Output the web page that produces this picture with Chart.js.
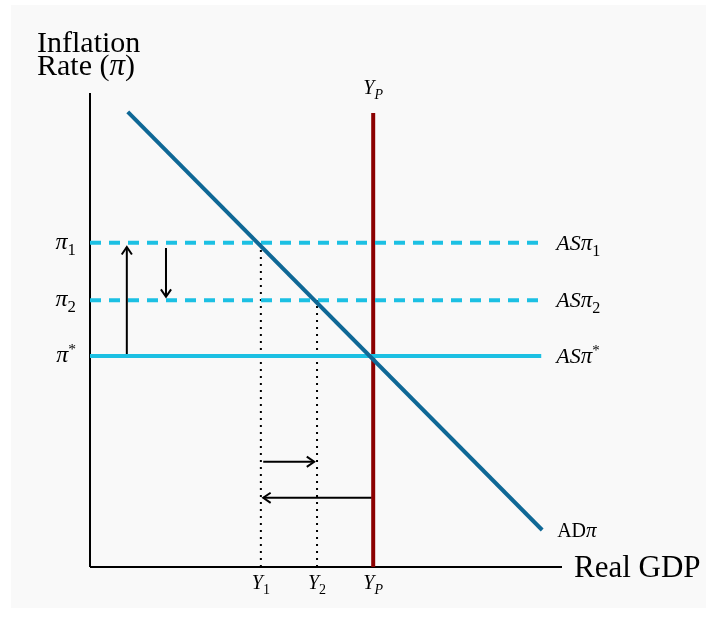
<!DOCTYPE html>
<html>
<head>
<meta charset="utf-8">
<script src="https://cdn.jsdelivr.net/npm/chart.js@4"></script>
<style>
  html, body { margin: 0; padding: 0; background: #ffffff; }
  #wrap { position: absolute; left: 11px; top: 5px; width: 695px; height: 603px; background: #f9f9f9; }
</style>
</head>
<body>
<div id="wrap"><canvas id="myChart" width="695" height="603"></canvas></div>
<script>
// niveles de inflación (pi1, pi2, pi*)
var piLevels = [68.4, 56.3, 44.5];
var piNames = ['1', '2', '*'];
// niveles de producción (Y1, Y2, YP)
var outputLevels = [36.2, 48.1, 60];
var outputNames = ['1', '2', 'P'];
// curva AD
var adX = [8, 95.8];
var adY = [96, 7.8];
var asEnd = 95.6;
var ypTop = 95.8;
// flechas: [x0, x1], [y0, y1]
var arrowsX = [[7.8, 7.8], [16.1, 16.1], [36.7, 47.5], [59.7, 36.7]];
var arrowsY = [[44.9, 67.5], [67.3, 57.0], [22.2, 22.2], [14.6, 14.6]];

var SERIF = "'Liberation Serif', 'Times New Roman', serif";

function linea(x, y, color, width, dash, extra) {
    var d = {
        data: x.map(function (v, i) { return { x: v, y: y[i] }; }),
        showLine: true,
        borderColor: color,
        backgroundColor: color,
        borderWidth: width,
        borderDash: dash || [],
        pointRadius: 0,
        clip: false
    };
    return Object.assign(d, extra || {});
}

var datasets = [];
datasets.push(linea(adX, adY, '#0f6896', 4, null, { order: 0 }));
piLevels.forEach(function (p, i) {
    datasets.push(linea([0, asEnd], [p, p], '#1cc0e3', 4, i < 2 ? [11, 8] : null, { order: 1 }));
});
datasets.push(linea([outputLevels[2], outputLevels[2]], [0, ypTop], '#8b0000', 4, null, { order: 2 }));
datasets.push(linea([outputLevels[0], outputLevels[0]], [0, piLevels[0]], '#000', 2, [2, 5], { order: 3 }));
datasets.push(linea([outputLevels[1], outputLevels[1]], [0, piLevels[1]], '#000', 2, [2, 5], { order: 3 }));
// ejes
datasets.push(linea([0, 0], [0, 100], '#000', 2, null, { order: 4 }));
datasets.push(linea([0, 100], [0, 0], '#000', 2, null, { order: 4 }));
arrowsX.forEach(function (ax, i) {
    datasets.push(linea(ax, arrowsY[i], '#000', 2, null, { order: 5, arrow: true }));
});

// texto con subíndice / superíndice
function texto(ctx, x, y, partes, align) {
    var total = 0;
    partes.forEach(function (p) {
        ctx.font = (p.italic ? 'italic ' : '') + p.size + 'px ' + SERIF;
        p.w = ctx.measureText(p.t).width;
        total += p.w;
    });
    var cx = align === 'right' ? x - total : (align === 'center' ? x - total / 2 : x);
    partes.forEach(function (p) {
        ctx.font = (p.italic ? 'italic ' : '') + p.size + 'px ' + SERIF;
        ctx.fillText(p.t, cx, y + (p.dy || 0));
        cx += p.w;
    });
}

function simbolo(base, idx, size, extra) {
    var partes = (extra || []).slice();
    partes.push({ t: base, italic: true, size: size });
    if (idx === '*') partes.push({ t: '*', size: size * 0.65, dy: -size * 0.35 });
    else partes.push({ t: idx, italic: idx === 'P', size: size * 0.7, dy: size * 0.25 });
    return partes;
}

var etiquetas = {
    id: 'etiquetas',
    afterDatasetsDraw: function (chart) {
        var ctx = chart.ctx;
        var xs = chart.scales.x, ys = chart.scales.y;
        ctx.save();
        ctx.fillStyle = '#000';
        ctx.strokeStyle = '#000';
        ctx.textBaseline = 'alphabetic';

        // puntas de flecha
        chart.data.datasets.forEach(function (ds) {
            if (!ds.arrow) return;
            var a = ds.data[0], b = ds.data[1];
            var x0 = xs.getPixelForValue(a.x), y0 = ys.getPixelForValue(a.y);
            var x1 = xs.getPixelForValue(b.x), y1 = ys.getPixelForValue(b.y);
            var ang = Math.atan2(y1 - y0, x1 - x0);
            var L = 9;
            ctx.lineWidth = 2;
            ctx.beginPath();
            ctx.moveTo(x1 - L * Math.cos(ang - 0.6), y1 - L * Math.sin(ang - 0.6));
            ctx.lineTo(x1, y1);
            ctx.lineTo(x1 - L * Math.cos(ang + 0.6), y1 - L * Math.sin(ang + 0.6));
            ctx.stroke();
        });

        // etiquetas del eje y
        var left = xs.getPixelForValue(0);
        piLevels.forEach(function (p, i) {
            var py = ys.getPixelForValue(p);
            texto(ctx, left - 14, py + 6, simbolo('\u03C0', piNames[i], 24), 'right');
            var ex = xs.getPixelForValue(asEnd) + 15;
            texto(ctx, ex, py + 7, simbolo('\u03C0', piNames[i], 23, [{ t: 'AS', italic: true, size: 22 }]), 'left');
        });

        // etiquetas del eje x
        var bottom = ys.getPixelForValue(0);
        outputLevels.forEach(function (o, i) {
            texto(ctx, xs.getPixelForValue(o), bottom + 22, simbolo('Y', outputNames[i], 20), 'center');
        });
        texto(ctx, xs.getPixelForValue(outputLevels[2]), ys.getPixelForValue(ypTop) - 19, simbolo('Y', 'P', 20), 'center');

        // AD
        texto(ctx, xs.getPixelForValue(adX[1]) + 15, ys.getPixelForValue(adY[1]) + 7,
            [{ t: 'AD', size: 20 }, { t: '\u03C0', italic: true, size: 21 }], 'left');

        // títulos de ejes
        texto(ctx, xs.getPixelForValue(100) + 12, bottom + 10, [{ t: 'Real GDP', size: 31 }], 'left');
        texto(ctx, 26, 47, [{ t: 'Inflation', size: 30 }], 'left');
        texto(ctx, 26, 70, [{ t: 'Rate (', size: 30 }, { t: '\u03C0', italic: true, size: 31 }, { t: ')', size: 30 }], 'left');
        ctx.restore();
    }
};

var ctx = document.getElementById('myChart').getContext('2d');
var myChart = new Chart(ctx, {
    type: 'scatter',
    data: { datasets: datasets },
    options: {
        responsive: false,
        animation: false,
        layout: { padding: { left: 79, top: 88, right: 144, bottom: 41 } },
        plugins: { legend: { display: false }, tooltip: { enabled: false } },
        scales: {
            x: { type: 'linear', min: 0, max: 100, display: false },
            y: { type: 'linear', min: 0, max: 100, display: false }
        }
    },
    plugins: [etiquetas]
});
</script>
</body>
</html>
